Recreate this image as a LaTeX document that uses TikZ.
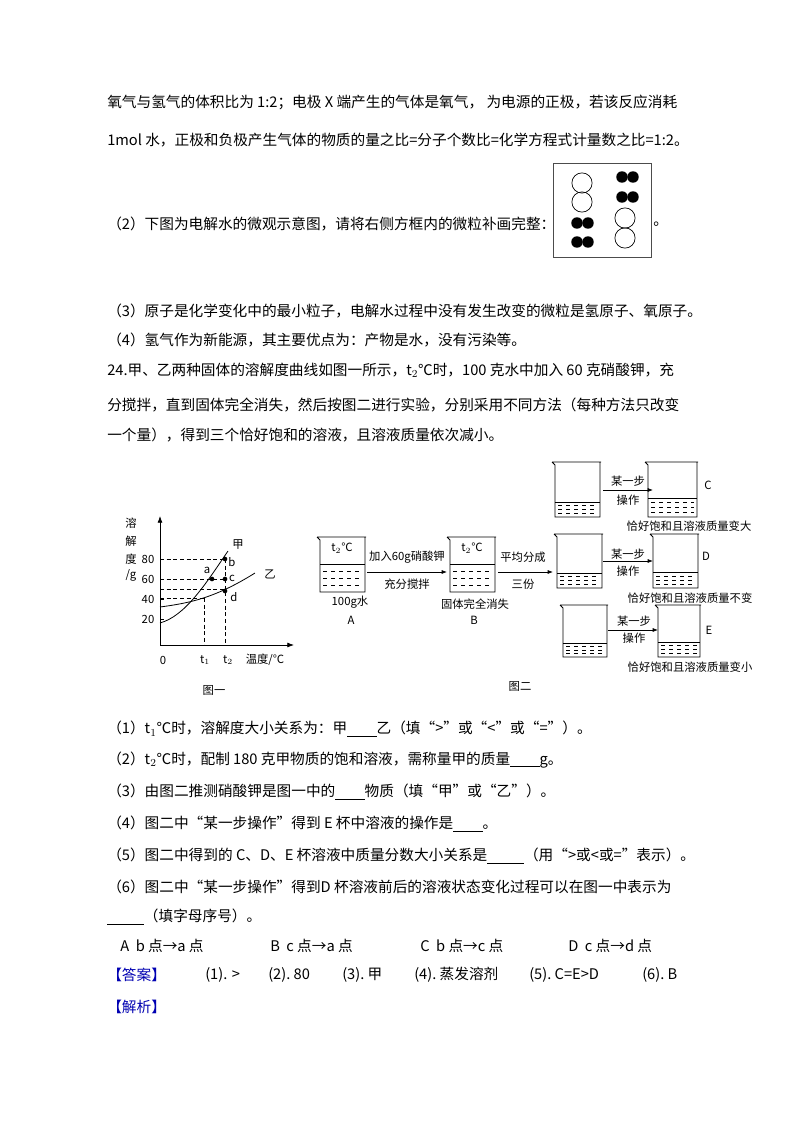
\documentclass[tikz,border=0pt]{standalone}
\usepackage{fontspec}
\setmainfont{Liberation Serif}
\newfontfamily\cjk{Noto Sans CJK SC}
\usetikzlibrary{arrows.meta}
\tikzset{
  line/.style={anchor=west,font=\cjk\fontsize{11}{13}\selectfont,inner sep=0pt},
  small/.style={font=\cjk\fontsize{8.5}{9}\selectfont,inner sep=0pt},
  guide/.style={densely dashed,line width=0.5pt},
  flow/.style={-{Latex[length=4pt]},line width=0.5pt},
  dot/.style={circle,fill,inner sep=0pt,minimum size=3.5pt},
}
% beaker: name, x0, y0, x1, y1, liquid level
\newcommand{\beaker}[6]{%
  \draw[line width=0.6pt] (#2-3,#3) -- (#4+1,#3) (#2-3,#3) -- (#2,#3+3) -- (#2,#5) -- (#4,#5) -- (#4,#3);
  \draw[line width=0.6pt] (#2,#6) -- (#4,#6);
  \foreach \k in {1,2,3} {
    \draw[dashed,line width=0.4pt] (#2+3,{#6+(#5-#6)*\k/4}) -- (#4-3,{#6+(#5-#6)*\k/4});
  }
  \coordinate (#1) at ({(#2+#4)/2},{(#3+#5)/2});
}
\begin{document}
\begin{tikzpicture}[x=0.75pt,y=-0.75pt]
\useasboundingbox (0,0) rectangle (800,1132);
\fill[white] (0,0) rectangle (800,1132);

% text above
\node[line] (l1) at (107,102) {氧气与氢气的体积比为 1:2；电极 X 端产生的气体是氧气， 为电源的正极，若该反应消耗};
\node[line] (l2) at (107,140) {1mol\ 水，正极和负极产生气体的物质的量之比=分子个数比=化学方程式计量数之比=1:2。};
\node[line] (l3) at (107,224) {（2）下图为电解水的微观示意图，请将右侧方框内的微粒补画完整：};
\node[line] (l3b) at (653,224) {。};

% micro box
\draw[line width=0.6pt,gray!60!black] (553,163) rectangle (651,257);
\foreach \y in {183,202} \draw[line width=0.5pt] (582,\y) circle (7.6pt);
\foreach \y in {223,242} {\fill (577,\y) circle (4.3pt); \fill (588,\y) circle (4.3pt);}
\foreach \y in {177,197} {\fill (622,\y) circle (4.3pt); \fill (633,\y) circle (4.3pt);}
\foreach \y in {218,238} \draw[line width=0.5pt] (625,\y) circle (7.6pt);

\node[line] (l4) at (107,311) {（3）原子是化学变化中的最小粒子，电解水过程中没有发生改变的微粒是氢原子、氧原子。};
\node[line] (l5) at (107,340) {（4）氢气作为新能源，其主要优点为：产物是水，没有污染等。};
\node[line] (l6) at (107,370) {24.甲、乙两种固体的溶解度曲线如图一所示，t$_2$℃时，100 克水中加入 60 克硝酸钾，充};
\node[line] (l7) at (107,405) {分搅拌，直到固体完全消失，然后按图二进行实验，分别采用不同方法（每种方法只改变};
\node[line] (l8) at (107,435) {一个量），得到三个恰好饱和的溶液，且溶液质量依次减小。};

% figure one
\draw[-{Latex[length=5pt]},line width=0.6pt] (160,645) -- (160,516);
\draw[-{Latex[length=5pt]},line width=0.6pt] (160,645) -- (294,645);
\foreach \v in {20,40,60,80} {
  \draw[line width=0.5pt] (160,639-\v) -- (164,639-\v);
  \node[small] at (148,639-\v) {\v};
}
\draw[guide] (160,559) -- (225,559);
\draw[guide] (160,579) -- (225,579);
\draw[guide] (160,589) -- (225,589);
\draw[guide] (160,598) -- (204,598);
\draw[guide] (204,598) -- (204,645);
\draw[guide] (225,559) -- (225,645);
\draw[line width=0.6pt] (160,623) .. controls (185,616) and (205,585) .. (228,551);
\draw[line width=0.6pt] (160,607) .. controls (190,603) and (215,598) .. (255,573);
\node[dot] (pa) at (212,579) {};
\node[dot] (pb) at (225,559) {};
\node[dot] (pc) at (225,579) {};
\node[dot] (pd) at (225,591) {};
\node[small] at (207,570) {a};
\node[small] at (232,562) {b};
\node[small] at (232,578) {c};
\node[small] at (234,597) {d};
\node[small] at (238,545) {甲};
\node[small] at (270,574) {乙};
\node[small] at (131,523) {溶};
\node[small] at (131,541) {解};
\node[small] at (131,559) {度};
\node[small] at (131,575) {/g};
\node[small] at (163,660) {0};
\node[small] at (205,660) {t$_1$};
\node[small] at (228,660) {t$_2$};
\node[small] at (265,660) {温度/℃};
\node[small] at (214,690) {图一};

% figure two
\beaker{bA}{320}{537}{365}{592}{564}
\beaker{bB}{450}{537}{495}{592}{564}
\node[small] at (342,548) {t$_2$℃};
\node[small] at (472,548) {t$_2$℃};
\node[small] at (350,602) {100g水};
\node[small] at (351,620) {A};
\node[small] at (475,604) {固体完全消失};
\node[small] at (474,620) {B};
\draw[flow] (367,572) -- (447,572);
\node[small] at (407,557) {加入60g硝酸钾};
\node[small] at (407,584) {充分搅拌};
\draw[flow] (498,572) -- (553,572);
\node[small] at (523,557) {平均分成};
\node[small] at (523,584) {三份};

\beaker{bC1}{555}{462}{600}{517}{502}
\beaker{bC2}{648}{462}{697}{517}{498}
\draw[flow] (603,490) -- (653,490);
\node[small] at (628,481) {某一步};
\node[small] at (628,500) {操作};
\node[small] at (708,485) {C};
\node[small] at (689,526) {恰好饱和且溶液质量变大};

\beaker{bD1}{557}{534}{602}{588}{573}
\beaker{bD2}{653}{534}{698}{588}{572}
\draw[flow] (603,561) -- (653,561);
\node[small] at (628,554) {某一步};
\node[small] at (628,571) {操作};
\node[small] at (706,556) {D};
\node[small] at (690,598) {恰好饱和且溶液质量不变};

\beaker{bE1}{563}{605}{607}{657}{643}
\beaker{bE2}{658}{605}{700}{657}{642}
\draw[flow] (608,630) -- (658,630);
\node[small] at (634,621) {某一步};
\node[small] at (634,638) {操作};
\node[small] at (709,630) {E};
\node[small] at (690,667) {恰好饱和且溶液质量变小};
\node[small] at (520,686) {图二};

% questions
\node[line] (q1) at (107,729) {（1）t$_1$℃时，溶解度大小关系为：甲\underline{\hspace{2em}}乙（填“>”或“<”或“=”）。};
\node[line] (q2) at (107,760) {（2）t$_2$℃时，配制 180 克甲物质的饱和溶液，需称量甲的质量\underline{\hspace{2em}}g。};
\node[line] (q3) at (107,792) {（3）由图二推测硝酸钾是图一中的\underline{\hspace{2em}}物质（填“甲”或“乙”）。};
\node[line] (q4) at (107,824) {（4）图二中“某一步操作”得到 E 杯中溶液的操作是\underline{\hspace{2em}}。};
\node[line] (q5) at (107,856) {（5）图二中得到的 C、D、E 杯溶液中质量分数大小关系是\underline{\hspace{2.5em}}（用“>或<或=”表示）。};
\node[line] (q6) at (107,887) {（6）图二中“某一步操作”得到D 杯溶液前后的溶液状态变化过程可以在图一中表示为};
\node[line] (q7) at (107,917) {\underline{\hspace{2.5em}}（填字母序号）。};
\node[line] (oA) at (120,946) {A\ \ b 点→a 点};
\node[line] (oB) at (270,946) {B\ \ c 点→a 点};
\node[line] (oC) at (420,946) {C\ \ b 点→c 点};
\node[line] (oD) at (568,946) {D\ \ c 点→d 点};
\node[line,text=blue!70!black] (ans) at (107,975) {【答案】};
\node[line] (a1) at (205,975) {(1). >};
\node[line] (a2) at (268,975) {(2).\ 80};
\node[line] (a3) at (342,975) {(3).\ 甲};
\node[line] (a4) at (414,975) {(4).\ 蒸发溶剂};
\node[line] (a5) at (529,975) {(5).\ C=E>D};
\node[line] (a6) at (642,975) {(6).\ B};
\node[line,text=blue!70!black] (jx) at (107,1007) {【解析】};
\end{tikzpicture}
\end{document}
